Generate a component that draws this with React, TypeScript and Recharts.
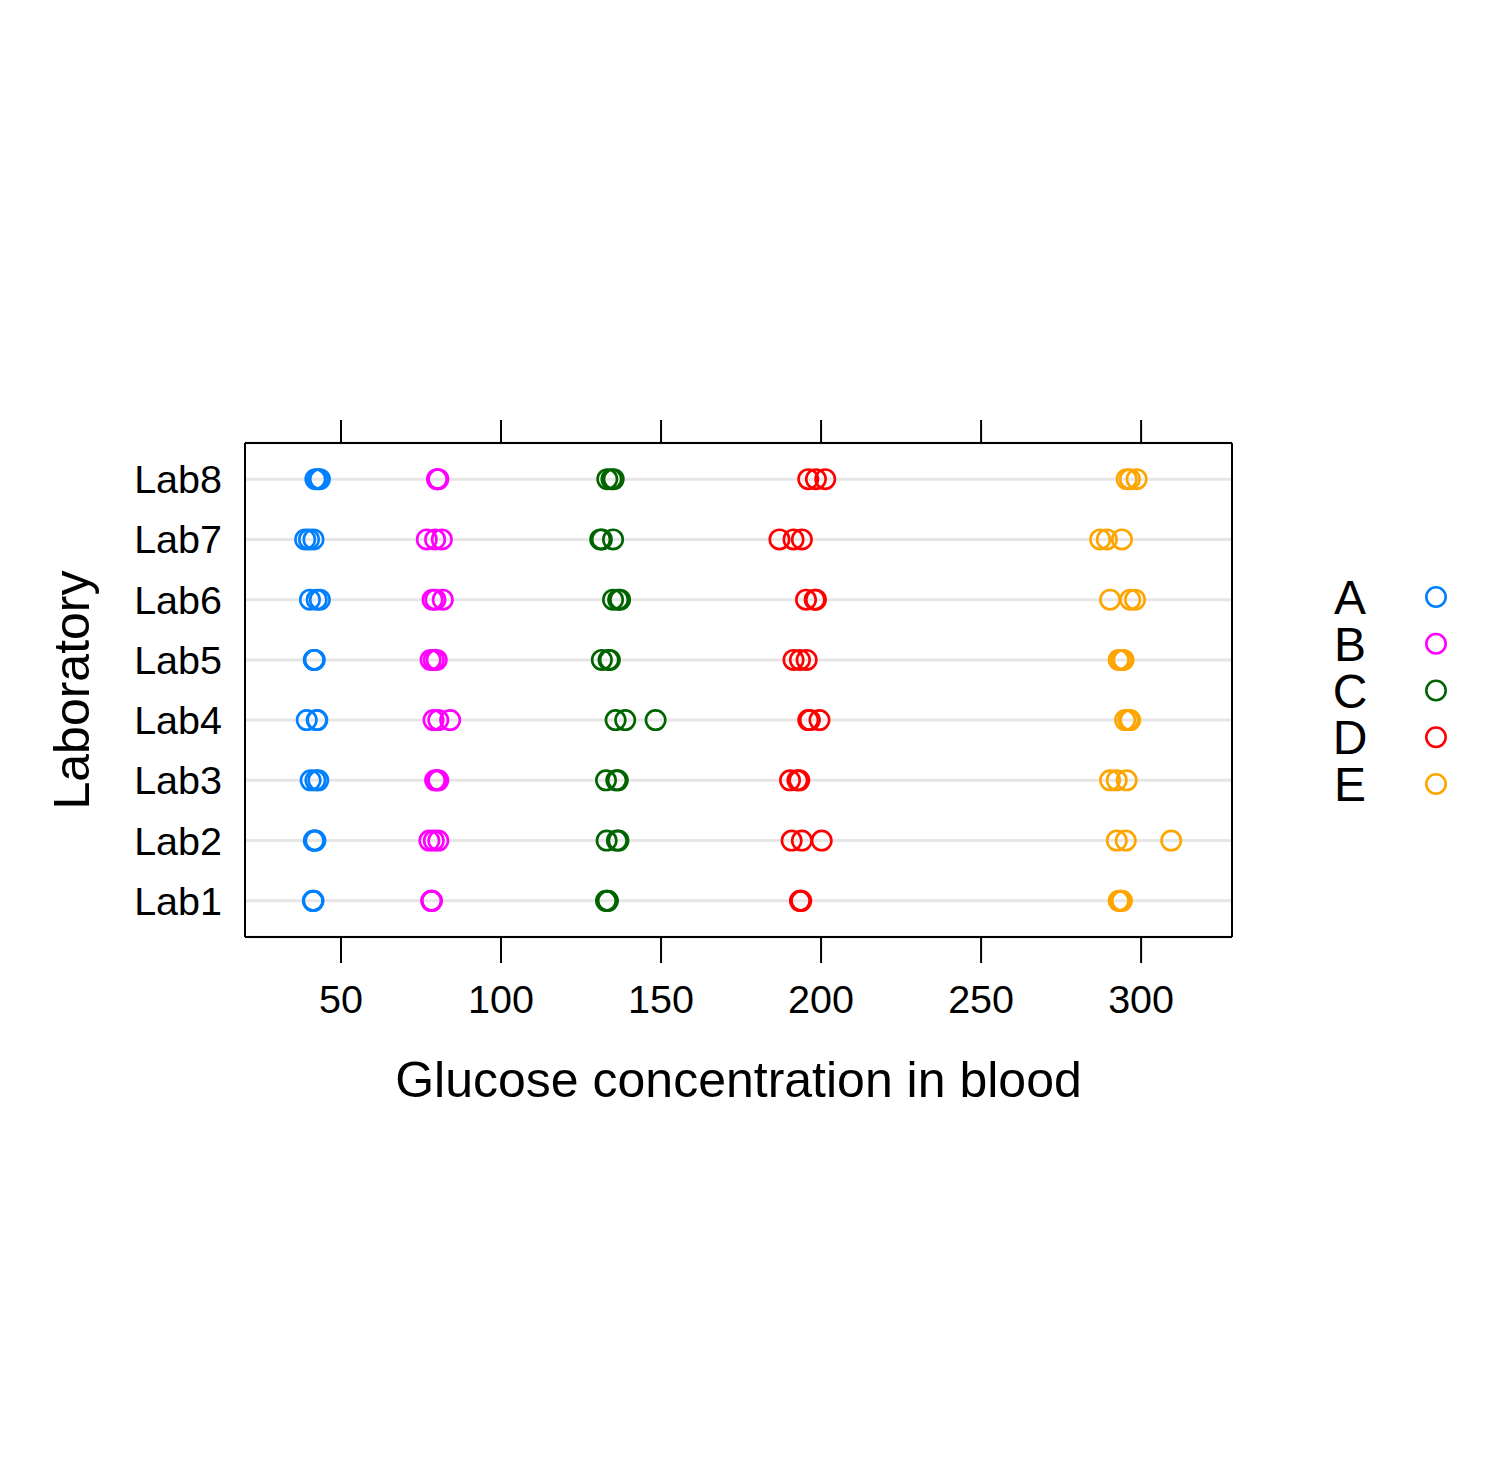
import React from "react";
import { ScatterChart, Scatter, XAxis, YAxis, CartesianGrid, Legend, Label } from "recharts";

const labs = ["Lab1", "Lab2", "Lab3", "Lab4", "Lab5", "Lab6", "Lab7", "Lab8"];
const xTicks = [50, 100, 150, 200, 250, 300];
const materials = ["A", "B", "C", "D", "E"];
const colors = ["#0080ff", "#ff00ff", "#006400", "#ff0000", "#ffa500"];

// replicate measurements per lab (Lab1..Lab8)
const matA = [
  [41.2, 41.3, 41.4], [41.5, 41.8, 42.0], [40.5, 42.0, 42.9], [39.3, 42.4, 42.6],
  [41.5, 41.6, 41.8], [40.3, 42.4, 43.4], [38.8, 40.0, 41.4], [42.0, 42.8, 43.4],
];
const matB = [
  [78.2, 78.3, 78.4], [77.6, 79.0, 80.4], [79.4, 80.0, 80.4], [78.9, 80.4, 84.1],
  [78.0, 79.0, 79.9], [78.6, 79.5, 81.8], [76.8, 79.4, 81.5], [80.0, 80.2, 80.4],
];
const matC = [
  [132.8, 133.2, 133.4], [133.0, 136.2, 136.7], [132.8, 136.0, 136.5], [135.8, 138.8, 148.3],
  [131.5, 133.6, 134.0], [135.0, 136.6, 137.2], [131.0, 131.5, 135.0], [133.2, 134.5, 135.2],
];
const matD = [
  [193.4, 193.6, 193.8], [190.8, 194.0, 200.2], [190.3, 192.6, 193.2], [196.0, 196.5, 199.5],
  [191.4, 193.4, 195.5], [195.3, 198.0, 198.4], [187.0, 191.4, 194.0], [196.0, 198.4, 201.3],
];
const matE = [
  [293.0, 293.5, 294.0], [292.4, 295.2, 309.4], [290.3, 292.4, 295.5], [295.0, 296.0, 296.6],
  [293.0, 293.8, 294.5], [290.3, 296.6, 298.1], [287.2, 289.3, 294.0], [295.5, 296.5, 298.6],
];
const allMaterials = [matA, matB, matC, matD, matE];

const toPoints = (m: number[][]) =>
  m.flatMap((vals, i) => vals.map((v) => ({ x: v, y: i + 1 })));

const FONT = "'Liberation Sans', Arial, Helvetica, sans-serif";

const ringShape = (color: string) => (props: any) =>
  <circle cx={props.cx} cy={props.cy} r={9.7} fill="none" stroke={color} strokeWidth={2.6} />;

const LegendContent = () => (
  <svg width={200} height={260} style={{ display: "block" }}>
    {materials.map((m, i) => (
      <g key={m}>
        <text x={40} y={54 + i * 46.75} textAnchor="middle" fontSize={48} fontFamily={FONT} fill="#000">{m}</text>
        <circle cx={126} cy={37 + i * 46.75} r={9.7} fill="none" stroke={colors[i]} strokeWidth={2.6} />
      </g>
    ))}
  </svg>
);

export default function App() {
  return (
    <div style={{ position: "absolute", left: 0, top: 0, width: 1500, height: 1470, background: "#fff" }}>
      <ScatterChart width={1500} height={1470} margin={{ top: 413, right: 267, bottom: 353, left: 45 }}>
        <CartesianGrid horizontal vertical={false} stroke="#e6e6e6" strokeWidth={3} />
        <XAxis
          type="number" dataKey="x" domain={[20, 328.4]} ticks={xTicks} allowDataOverflow
          height={180} tickSize={26} tickMargin={22}
          stroke="#000" strokeWidth={2}
          tick={{ fontSize: 39.5, fontFamily: FONT, fill: "#000" }}
        >
          <Label content={({ viewBox }: any) => (
            <text x={viewBox.x + viewBox.width / 2} y={1097} textAnchor="middle" fontSize={50} fontFamily={FONT} fill="#000">
              Glucose concentration in blood
            </text>
          )} />
        </XAxis>
        <XAxis
          xAxisId="top" orientation="top" type="number" dataKey="x" domain={[20, 328.4]} ticks={xTicks} allowDataOverflow
          height={30} tickSize={23} tickFormatter={() => ""} stroke="#000" strokeWidth={2}
        />
        <YAxis
          type="number" dataKey="y" domain={[0.4, 8.6]} ticks={[1, 2, 3, 4, 5, 6, 7, 8]} allowDataOverflow
          width={200} tickLine={false} tickSize={0} tickMargin={23}
          tickFormatter={(v: number) => labs[v - 1]}
          stroke="#000" strokeWidth={2}
          tick={{ fontSize: 39.5, fontFamily: FONT, fill: "#000" }}
        >
          <Label content={({ viewBox }: any) => {
            const cy = viewBox.y + viewBox.height / 2;
            return (
              <text x={89} y={cy} transform={`rotate(-90, 89, ${cy})`} textAnchor="middle" fontSize={50} fontFamily={FONT} fill="#000">
                Laboratory
              </text>
            );
          }} />
        </YAxis>
        <YAxis
          yAxisId="right" orientation="right" type="number" dataKey="y" domain={[0.4, 8.6]}
          width={1} tick={false} tickLine={false} stroke="#000" strokeWidth={2}
        />
        <Legend
          layout="horizontal" verticalAlign="middle" align="center"
          wrapperStyle={{ position: "absolute", left: 1310, top: 560, width: 200, height: 260 }}
          content={() => <LegendContent />}
        />
        {allMaterials.map((m, i) => (
          <Scatter
            key={materials[i]} name={materials[i]} data={toPoints(m)}
            isAnimationActive={false} shape={ringShape(colors[i])}
          />
        ))}
      </ScatterChart>
    </div>
  );
}
